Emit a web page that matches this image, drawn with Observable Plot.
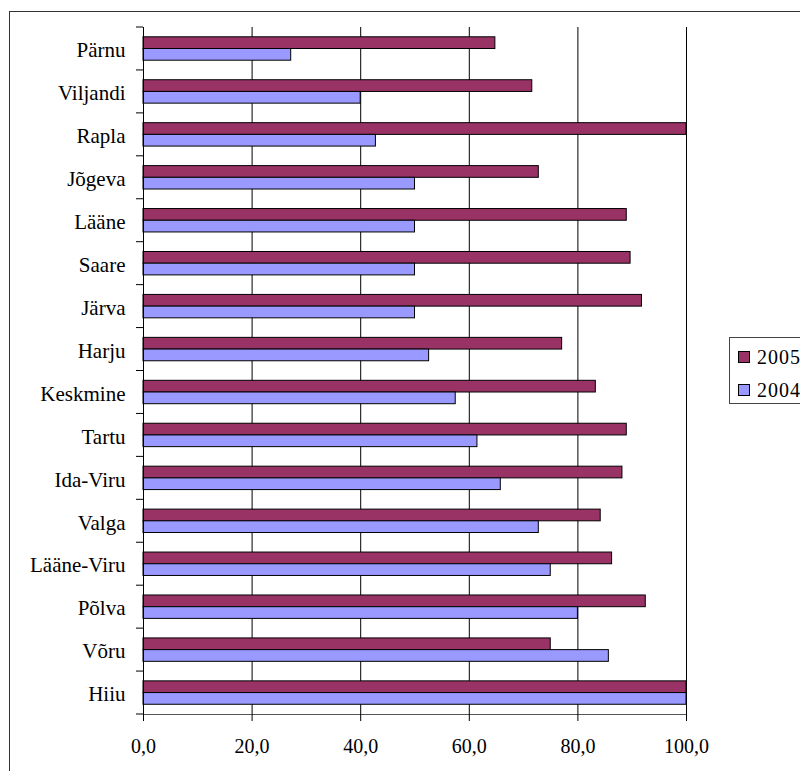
<!DOCTYPE html>
<html>
<head>
<meta charset="utf-8">
<script src="https://cdn.jsdelivr.net/npm/d3@7"></script>
<script src="https://cdn.jsdelivr.net/npm/@observablehq/plot@0.6"></script>
<style>
  html, body { margin: 0; padding: 0; background: #fff; overflow: hidden; }
  #wrap { position: relative; width: 800px; height: 771px; overflow: hidden; font-family: 'Liberation Serif', serif; }
  #outer { position: absolute; left: 9px; top: 11px; width: 1000px; height: 1000px; border: 1px solid #333; }
  #chart { position: absolute; left: 0; top: 0; }
  #legend { position: absolute; left: 729px; top: 337px; width: 200px; height: 65px; border: 1px solid #444; background: #fff; font-family: 'Liberation Serif', serif; }
  .item { position: absolute; left: 8px; font-size: 20px; line-height: 20px; color: #000; font-family: 'Liberation Serif', serif; }
  .sw { position: absolute; left: 0; top: 3px; width: 10px; height: 10px; border: 1px solid #000; }
  .lbl { position: absolute; left: 19px; top: -1px; white-space: nowrap; letter-spacing: 1px; }
</style>
</head>
<body>
<div id="wrap">
  <div id="outer"></div>
  <div id="chart"></div>
  <div id="legend"></div>
</div>
<script>
const regions = ["Pärnu","Viljandi","Rapla","Jõgeva","Lääne","Saare","Järva","Harju","Keskmine","Tartu","Ida-Viru","Valga","Lääne-Viru","Põlva","Võru","Hiiu"];
const values2005 = [64.8, 71.6, 100, 72.8, 89.0, 89.7, 91.8, 77.1, 83.3, 89.0, 88.2, 84.2, 86.3, 92.5, 75.0, 100];
const values2004 = [27.2, 40.0, 42.8, 50.0, 50.0, 50.0, 50.0, 52.6, 57.5, 61.5, 65.8, 72.8, 75.0, 80.0, 85.7, 100];
const series = ["2005", "2004"];
const colors = ["#993366", "#9999FF"];
const xTicks = [0, 20, 40, 60, 80, 100];

const data = regions.map((r, i) => ({region: r, v2005: values2005[i], v2004: values2004[i]}));

const W = 800, H = 771;
const mT = 27, mB = 57, mL = 143, mR = 114;
const bw = (H - mT - mB) / regions.length;
const gap = 9.8, barH = 11.7;
const font = "Liberation Serif";

const chart = Plot.plot({
  width: W, height: H,
  marginTop: mT, marginBottom: mB, marginLeft: mL, marginRight: mR,
  style: {fontFamily: font, background: "transparent", color: "#000"},
  x: {domain: [0, 100], label: null},
  y: {type: "band", domain: regions, padding: 0, round: false, label: null},
  marks: [
    Plot.gridX(xTicks.slice(1), {stroke: "#000", strokeOpacity: 1}),
    Plot.barX(data, {x: "v2005", y: "region", fill: colors[0], stroke: "#000", strokeWidth: 1,
      insetTop: gap, insetBottom: bw - gap - barH}),
    Plot.barX(data, {x: "v2004", y: "region", fill: colors[1], stroke: "#000", strokeWidth: 1,
      insetTop: gap + barH, insetBottom: bw - gap - 2 * barH}),
    // category boundary ticks (top of each band, bottom of last)
    Plot.barX(data, {x1: 0, x2: 0, y: "region", insetLeft: -7, insetTop: -0.5, insetBottom: bw - 0.5, fill: "#000"}),
    Plot.barX(data.slice(-1), {x1: 0, x2: 0, y: "region", insetLeft: -7, insetTop: bw - 0.5, insetBottom: -0.5, fill: "#000"}),
    Plot.ruleX([0], {stroke: "#000"}),
    Plot.frame({anchor: "bottom", stroke: "#555"}),
    Plot.axisX({ticks: xTicks, tickSize: 7, tickPadding: 17, fontSize: 20, fontFamily: font, stroke: "#000", label: null,
      tickFormat: d => d.toFixed(1).replace(".", ",")}),
    Plot.axisY({tickSize: 0, tickPadding: 18, fontSize: 21, fontFamily: font, dy: 1.5, label: null})
  ]
});
document.getElementById("chart").appendChild(chart);

const legend = document.getElementById("legend");
series.forEach((s, i) => {
  const it = document.createElement("div");
  it.className = "item";
  it.style.top = (i === 0 ? 10 : 43) + "px";
  it.innerHTML = `<span class="sw" style="background:${colors[i]}"></span><span class="lbl">${s}</span>`;
  legend.appendChild(it);
});
</script>
</body>
</html>
